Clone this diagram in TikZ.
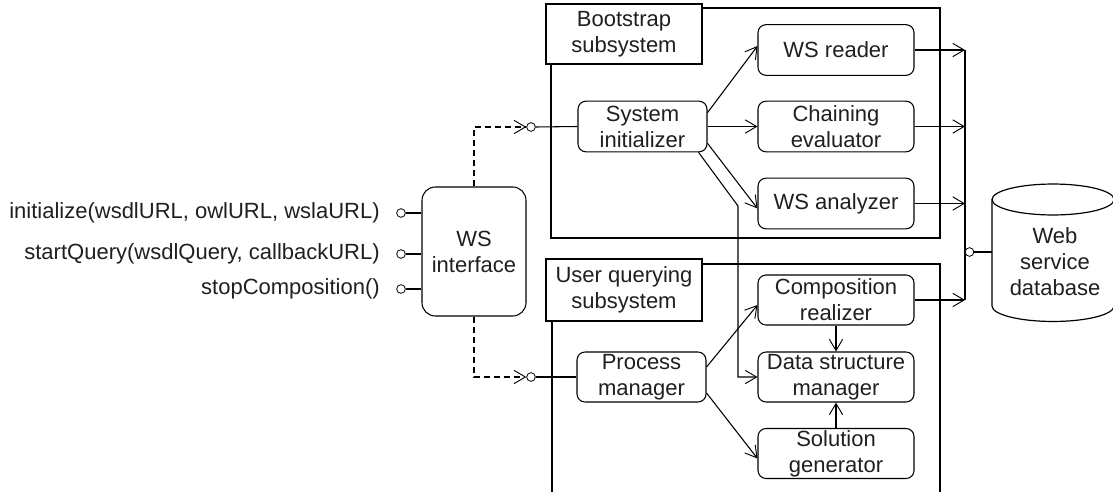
\documentclass[tikz,border=0pt]{standalone}
\usepackage{fontspec}
\setmainfont{Liberation Sans}
\usetikzlibrary{arrows.meta,calc}
\begin{document}
\begin{tikzpicture}[x=0.75pt,y=-0.75pt,
  every node/.style={font=\fontsize{16.5}{19.5}\selectfont, align=center, inner sep=0pt, text=black!88},
  comp/.style={draw, rounded corners=6pt, line width=0.8pt, minimum width=117pt, minimum height=38pt},
  compsm/.style={comp, minimum width=96.75pt},
  titlebox/.style={draw, fill=white, line width=1.5pt, minimum width=117pt, minimum height=45pt},
  frame/.style={line width=1.5pt},
  conn/.style={line width=0.8pt},
  tipbarb/.style={-{Straight Barb[length=8.5pt,width=10pt,line width=0.7pt]}},
  arr/.style={conn, tipbarb},
  port/.style={circle, draw, fill=white, line width=0.6pt, minimum size=6.5pt},
  dashedconn/.style={conn, dash pattern=on 5pt off 2.5pt},
]
\path[use as bounding box, clip] (0,0) rectangle (1113,492);

% frames
\draw[frame] (551,8) rectangle (940,238);
\draw[frame] (552,492) -- (552,264) -- (940,264) -- (940,492);
\node[titlebox] (t1) at (624,34) {Bootstrap\\subsystem};
\node[titlebox, minimum height=46.5pt] (t2) at (624,290) {User querying\\subsystem};

% components
\node[compsm] (si) at (642.5,126.5) {System\\initializer};
\node[comp] (wr) at (836,50) {WS reader};
\node[comp] (ce) at (836,126.5) {Chaining\\evaluator};
\node[comp] (wa) at (836,203.5) {WS analyzer};
\node[comp, minimum height=37.5pt] (cr) at (836,300) {Composition\\realizer};
\node[comp, minimum height=37.5pt] (dsm) at (836,377) {Data structure\\manager};
\node[comp, minimum height=37.5pt] (sg) at (836,453.5) {Solution\\generator};
\node[compsm, minimum height=37.5pt] (pm) at (641.5,377) {Process\\manager};

% WS interface
\node[draw, rounded corners=10pt, line width=0.8pt, minimum width=78pt, minimum height=96.75pt] (ws) at (474,251.5) {WS\\interface};

% left ports
\node[port] (l1) at (401,213) {};
\node[port] (l2) at (401,254) {};
\node[port] (l3) at (401,289) {};
\draw[conn] (l1) -- (ws.west |- l1);
\draw[conn] (l2) -- (ws.west |- l2);
\draw[conn] (l3) -- (ws.west |- l3);
\node[anchor=east] (m1) at (380,213) {initialize(wsdlURL, owlURL, wslaURL)};
\node[anchor=east] (m2) at (380,254) {startQuery(wsdlQuery, callbackURL)};
\node[anchor=east] (m3) at (380,289) {stopComposition()};

% required interfaces
\node[port] (c1) at (531,127) {};
\node[port] (c2) at (531,377) {};
\draw[dashedconn, tipbarb] (ws.north) |- (c1.west);
\draw[dashedconn, tipbarb] (ws.south) |- (c2.west);
\draw[conn] (c1.east) -- (si.west);
\draw[conn] (c2.east) -- (pm.west);

% bootstrap arrows
\draw[arr] ($(si.north east)+(0,12)$) -- ($(wr.west)+(0,-4)$);
\draw[arr] (si.east) -- (ce.west);
\draw[arr] ($(si.south east)+(0,-9)$) -- ($(wa.west)+(0,5)$);
\coordinate (bend) at (738,206);
\draw[arr] ($(si.south east)+(-9,0)$) -- (bend) |- (dsm.west);

% querying arrows
\draw[arr] ($(pm.east)+(0,-10)$) -- ($(cr.west)+(0,5)$);
\draw[arr] ($(pm.east)+(0,16)$) -- ($(sg.west)+(0,5)$);
\draw[arr] (cr.south) -- (dsm.north);
\draw[arr] (sg.north) -- (dsm.south);

% bus to database
\coordinate (b1) at (965,50);
\coordinate (b2) at (965,126.5);
\coordinate (b3) at (965,203.5);
\coordinate (b4) at (965,300);
\draw[conn] (b1) -- (b4);
\draw[arr] (wr.east) -- (b1);
\draw[arr] (ce.east) -- (b2);
\draw[arr] (wa.east) -- (b3);
\draw[arr] (cr.east) -- (b4);
\node[port] (c3) at (969.5,252) {};

% database
\draw[line width=0.9pt] (992,199.5) -- (992,306) arc[start angle=180, end angle=360, x radius=45.75pt, y radius=11.6pt] -- (1114,199.5);
\draw[line width=0.9pt] (1053,199.5) ellipse [x radius=45.75pt, y radius=11.6pt];
\coordinate (dbl) at (992,252);
\node (db) at (1055,262) {Web\\service\\database};
\draw[conn] (c3.east) -- (dbl);
\end{tikzpicture}
\end{document}
